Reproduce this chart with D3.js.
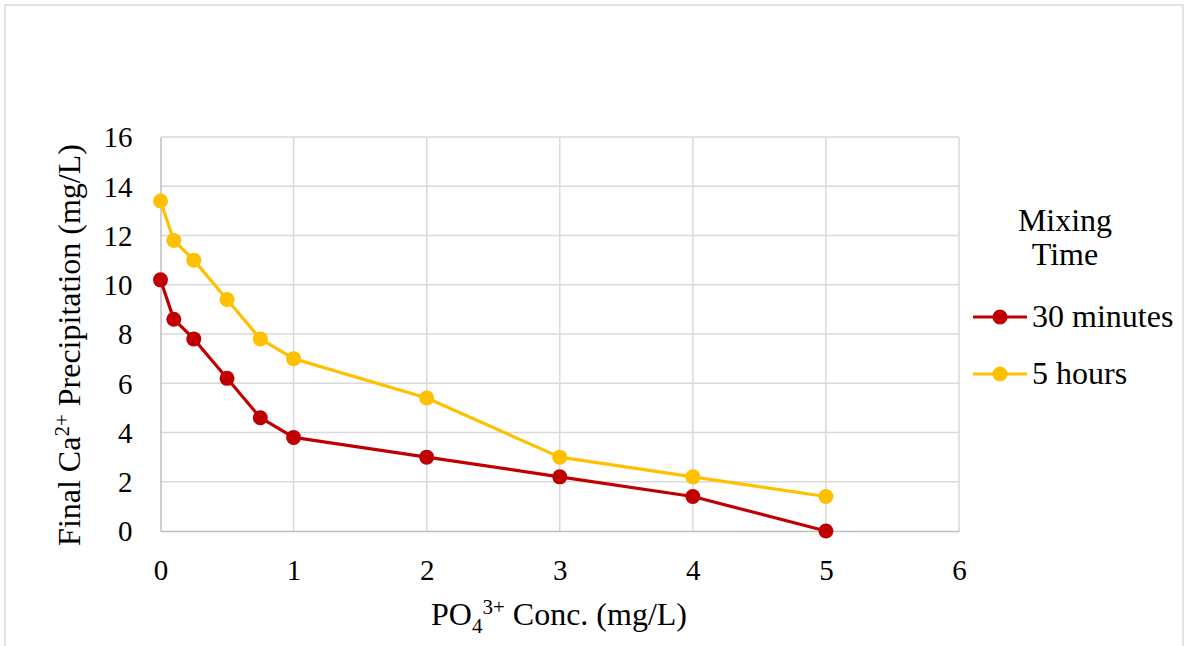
<!DOCTYPE html>
<html>
<head>
<meta charset="utf-8">
<script src="https://cdn.jsdelivr.net/npm/d3@7"></script>
<style>
  html, body { margin: 0; padding: 0; background: #fff; }
  svg { display: block; }
</style>
</head>
<body>
<svg id="chart" width="1184" height="646" font-family="'Liberation Serif', 'Times New Roman', serif"></svg>
<script>
// PO4 concentration (mg/L) at each sample
const concentrations = [0, 0.1, 0.25, 0.5, 0.75, 1, 2, 3, 4, 5];
// Final Ca2+ precipitation (mg/L) per mixing time
const thirtyMinutes = [10.2, 8.6, 7.8, 6.2, 4.6, 3.8, 3.0, 2.2, 1.4, 0];
const fiveHours = [13.4, 11.8, 11.0, 9.4, 7.8, 7.0, 5.4, 3.0, 2.2, 1.4];
const seriesNames = ["30 minutes", "5 hours"];
const seriesColors = ["#C00000", "#FFC000"];
const xTicks = [0, 1, 2, 3, 4, 5, 6];
const yTicks = [0, 2, 4, 6, 8, 10, 12, 14, 16];

const FONT = "'Liberation Serif', 'Times New Roman', serif";
const svg = d3.select("#chart");

// outer frame
svg.append("rect")
  .attr("x", 5).attr("y", 5).attr("width", 1178).attr("height", 660)
  .attr("fill", "none").attr("stroke", "#d9d9d9").attr("stroke-width", 1.5);

const plot = { left: 160.5, right: 959, top: 137, bottom: 531 };
const x = d3.scaleLinear().domain([0, 6]).range([plot.left, plot.right]);
const y = d3.scaleLinear().domain([0, 16]).range([plot.bottom, plot.top]);

// gridlines
const grid = svg.append("g");
grid.selectAll("line.h").data(yTicks.slice(1)).join("line")
  .attr("x1", plot.left).attr("x2", plot.right)
  .attr("y1", d => y(d)).attr("y2", d => y(d))
  .attr("stroke", "#d9d9d9").attr("stroke-width", 1.5);
grid.selectAll("line.v").data(xTicks.slice(1)).join("line")
  .attr("y1", plot.top).attr("y2", plot.bottom)
  .attr("x1", d => x(d)).attr("x2", d => x(d))
  .attr("stroke", "#d9d9d9").attr("stroke-width", 1.5);

// axes
const xAxis = d3.axisBottom(x).tickValues(xTicks).tickSize(0).tickPadding(28).tickFormat(d3.format("d"));
const yAxis = d3.axisLeft(y).tickValues(yTicks).tickSize(0).tickPadding(28).tickFormat(d3.format("d"));

const gx = svg.append("g").attr("transform", `translate(0,${plot.bottom})`).call(xAxis)
  .attr("font-family", FONT).attr("font-size", 29);
gx.select(".domain").attr("stroke", "#bfbfbf").attr("stroke-width", 1.5);
gx.selectAll("text").attr("fill", "#000").attr("dy", "0.72em").attr("y", 28 - 0.72 * 29 + 20.5);

const gy = svg.append("g").attr("transform", `translate(${plot.left},0)`).call(yAxis)
  .attr("font-family", FONT).attr("font-size", 29);
gy.select(".domain").attr("stroke", "#bfbfbf").attr("stroke-width", 1.5);
gy.selectAll("text").attr("fill", "#000").attr("dy", "0.34em");

// series
const series = [thirtyMinutes, fiveHours];
const line = d3.line().x((d, i) => x(concentrations[i])).y(d => y(d));
series.forEach((vals, s) => {
  const g = svg.append("g");
  g.append("path").datum(vals).attr("d", line)
    .attr("fill", "none").attr("stroke", seriesColors[s]).attr("stroke-width", 3.2)
    .attr("stroke-linejoin", "round");
  g.selectAll("circle").data(vals).join("circle")
    .attr("cx", (d, i) => x(concentrations[i])).attr("cy", d => y(d))
    .attr("r", 7.5).attr("fill", seriesColors[s]);
});

// y axis title
const yt = svg.append("text")
  .attr("transform", "translate(80,345) rotate(-90)")
  .attr("text-anchor", "middle").attr("font-family", FONT).attr("font-size", 32);
yt.append("tspan").text("Final Ca");
yt.append("tspan").attr("dy", -11).attr("font-size", 21).text("2+");
yt.append("tspan").attr("dy", 11).text(" Precipitation (mg/L)");

// x axis title
const xt = svg.append("text")
  .attr("x", 559).attr("y", 625).attr("text-anchor", "middle")
  .attr("font-family", FONT).attr("font-size", 32);
xt.append("tspan").text("PO");
xt.append("tspan").attr("dy", 8).attr("font-size", 21).text("4");
xt.append("tspan").attr("dy", -19).attr("font-size", 21).text("3+");
xt.append("tspan").attr("dy", 11).text(" Conc. (mg/L)");

// legend
const legend = svg.append("g").attr("font-family", FONT).attr("font-size", 32);
legend.append("text").attr("x", 1065).attr("y", 231).attr("text-anchor", "middle").text("Mixing");
legend.append("text").attr("x", 1065).attr("y", 265).attr("text-anchor", "middle").text("Time");
const legendY = [317, 374];
seriesNames.forEach((name, s) => {
  const ly = legendY[s];
  legend.append("line").attr("x1", 973).attr("x2", 1027).attr("y1", ly).attr("y2", ly)
    .attr("stroke", seriesColors[s]).attr("stroke-width", 3.2);
  legend.append("circle").attr("cx", 1000).attr("cy", ly).attr("r", 7.5).attr("fill", seriesColors[s]);
  legend.append("text").attr("x", 1032).attr("y", ly + 10).text(name);
});
</script>
</body>
</html>
